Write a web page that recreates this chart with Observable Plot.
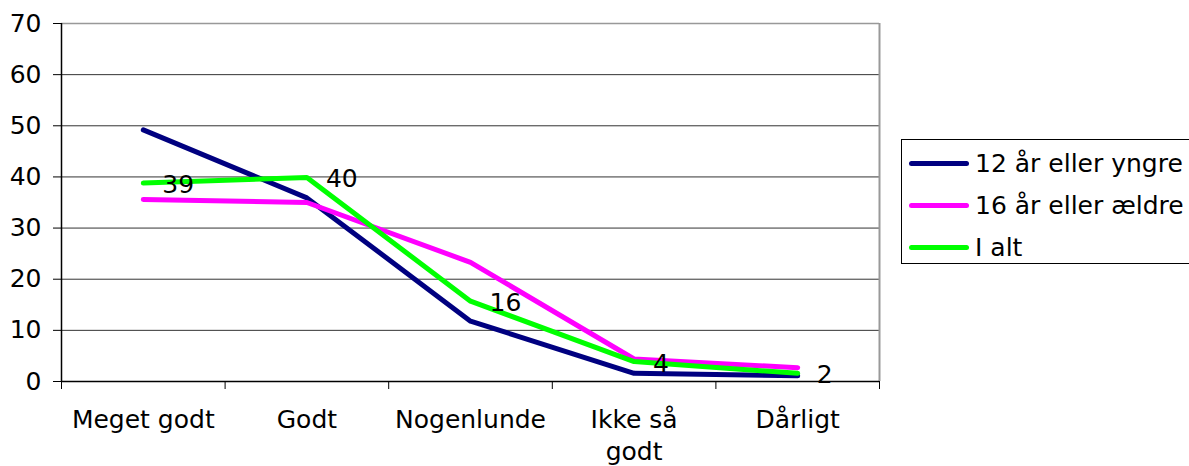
<!DOCTYPE html>
<html>
<head>
<meta charset="utf-8">
<script src="https://cdn.jsdelivr.net/npm/d3@7"></script>
<script src="https://cdn.jsdelivr.net/npm/@observablehq/plot@0.6"></script>
<style>
  html, body { margin: 0; padding: 0; background: #fff; overflow: hidden; }
  #wrap { position: relative; width: 1189px; height: 466px; font-family: "DejaVu Sans", Verdana, sans-serif; }
  #legend { position: absolute; left: 901px; top: 139px; width: 320px; height: 125px; border: 1px solid #000; background: #fff; box-sizing: border-box; }
  .row { position: absolute; left: 7px; height: 30px; display: flex; align-items: center; font-size: 25px; color: #000; white-space: nowrap; }
  .sw { width: 60px; height: 5px; border-radius: 3px; margin-right: 6px; }
</style>
</head>
<body>
<div id="wrap"></div>
<script>
const categories = ["Meget godt", "Godt", "Nogenlunde", "Ikke så godt", "Dårligt"];
const categoryLabels = ["Meget godt", "Godt", "Nogenlunde", "Ikke så\ngodt", "Dårligt"];
const seriesNames = ["12 år eller yngre", "16 år eller ældre", "I alt"];
const seriesColors = ["#000080", "#FF00FF", "#00FF00"];
const young = [49.2, 35.9, 11.8, 1.6, 1.1];
const old = [35.6, 35.0, 23.3, 4.4, 2.7];
const total = [38.8, 39.9, 15.7, 3.9, 1.6];
const yTicks = [0, 10, 20, 30, 40, 50, 60, 70];

const seriesValues = [young, old, total];
const rows = [];
seriesValues.forEach((vals, s) => {
  vals.forEach((v, i) => rows.push({series: seriesNames[s], cat: categories[i], i, v}));
});
const totalRows = rows.filter(d => d.series === "I alt");

const chart = Plot.plot({
  width: 1189,
  height: 466,
  marginLeft: 61,
  marginRight: 310,
  marginTop: 23,
  marginBottom: 85,
  style: {fontFamily: "DejaVu Sans, Verdana, sans-serif", fontSize: "25px", color: "#000", background: "#fff"},
  x: {type: "linear", domain: [0, categories.length]},
  y: {domain: [0, 70]},
  color: {domain: seriesNames, range: seriesColors},
  marks: [
    Plot.ruleY(yTicks.slice(1, -1), {stroke: "#333", strokeWidth: 1}),
    Plot.ruleY([70], {stroke: "#999", strokeWidth: 1.5}),
    Plot.ruleX([categories.length], {stroke: "#999", strokeWidth: 2}),
    Plot.axisY({ticks: yTicks, tickSize: 8, tickPadding: 12, tickFormat: d => String(d), stroke: "#000", fill: "#000", label: null}),
    Plot.axisX({ticks: d3.range(0, categories.length + 1), tickSize: 8, tickFormat: () => "", stroke: "#000", label: null}),
    Plot.axisX({ticks: d3.range(categories.length).map(i => i + 0.5), tickSize: 0, tickPadding: 24, lineHeight: 1.28,
      tickFormat: d => categoryLabels[Math.floor(d)], fill: "#000", label: null}),
    Plot.ruleX([0], {stroke: "#000", strokeWidth: 1.5}),
    Plot.ruleY([0], {stroke: "#000", strokeWidth: 1.5}),
    Plot.line(rows, {x: d => d.i + 0.5, y: "v", z: "series", stroke: "series", strokeWidth: 5, strokeLinecap: "round", strokeLinejoin: "round"}),
    Plot.text(totalRows, {x: d => d.i + 0.5, y: "v", text: d => String(Math.round(d.v)), textAnchor: "start", dx: 19, dy: 2, fill: "#000"})
  ]
});
const wrap = document.getElementById("wrap");
wrap.appendChild(chart);

const legend = document.createElement("div");
legend.id = "legend";
seriesNames.forEach((name, s) => {
  const row = document.createElement("div");
  row.className = "row";
  row.style.top = (8 + s * 42) + "px";
  const sw = document.createElement("div");
  sw.className = "sw";
  sw.style.background = seriesColors[s];
  row.appendChild(sw);
  row.appendChild(document.createTextNode(name));
  legend.appendChild(row);
});
wrap.appendChild(legend);
</script>
</body>
</html>
